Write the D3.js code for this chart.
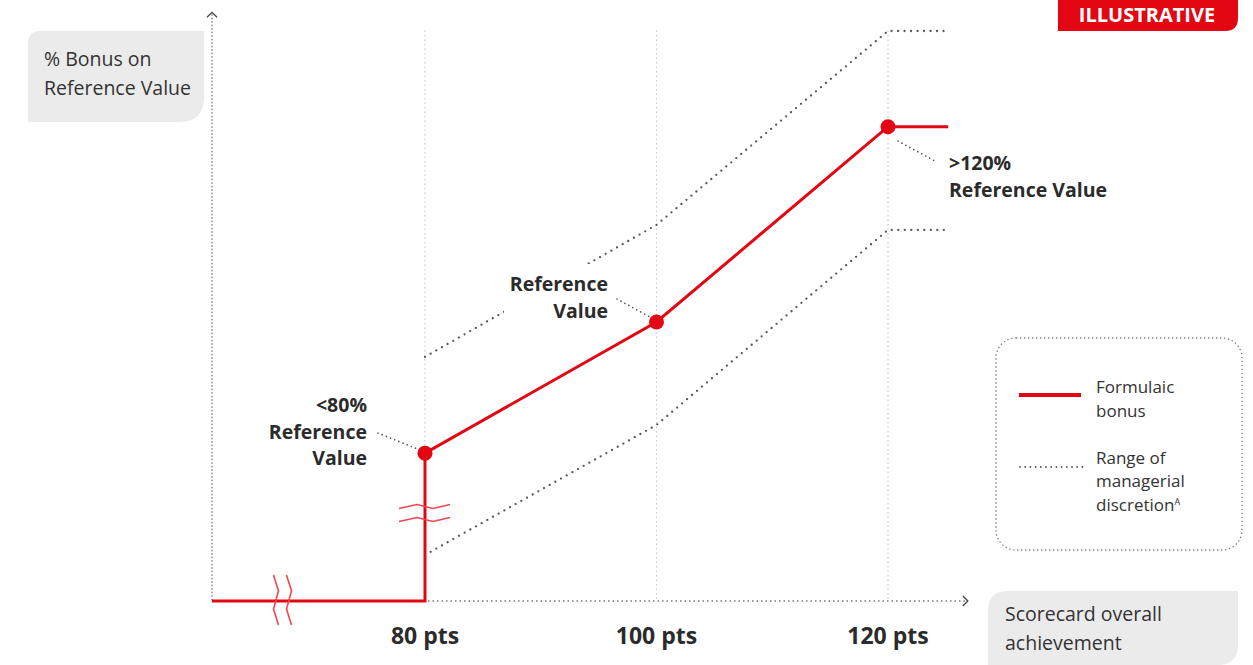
<!DOCTYPE html>
<html>
<head>
<meta charset="utf-8">
<script src="https://cdn.jsdelivr.net/npm/d3@7"></script>
<style>
  body { margin: 0; background: #fff; }
  svg text { font-family: "Open Sans", "Noto Sans", sans-serif; }
</style>
</head>
<body>
<div id="plot"></div>
<script>
// Chart data (illustrative values: x = scorecard points, y = % of reference value)
var tickPts = [80, 100, 120];
var tickLabels = ["80 pts", "100 pts", "120 pts"];

var formulaicPts = [61.6, 80, 80, 100, 120, 125.2];
var formulaicVal = [0, 0, 53, 100, 170, 170];

var markerPts = [80, 100, 120];
var markerVal = [53, 100, 170];

var upperPts = [80, 100, 120, 125];
var upperVal = [87.5, 134.8, 204.3, 204.3];

var lowerPts = [80, 100, 120, 125];
var lowerVal = [16.5, 63.1, 133, 133];

var axisStartPts = 61.6;
var axisEndPts = 126.9;
var axisTopVal = 211;
var gridTopVal = 204.5;

var red = "#e30613";
var dark = "#2b2b2b";

// SVG area
var svgWidth = 1253;
var svgHeight = 665;

var svg = d3.select("#plot")
  .append("svg")
  .attr("width", svgWidth)
  .attr("height", svgHeight);

// scales
var x = d3.scaleLinear().domain([80, 120]).range([425, 888]);
var y = d3.scaleLinear().domain([0, 100]).range([601, 322]);

// vertical grid lines
svg.selectAll(".grid")
  .data(tickPts)
  .enter()
  .append("line")
  .attr("x1", d => x(d)).attr("x2", d => x(d))
  .attr("y1", y(gridTopVal)).attr("y2", y(0))
  .attr("stroke", "#c8c8c8")
  .attr("stroke-width", 1.2)
  .attr("stroke-dasharray", "1.5,3");

// axes
svg.append("line")
  .attr("x1", x(axisStartPts)).attr("x2", x(axisStartPts))
  .attr("y1", y(axisTopVal) + 2).attr("y2", y(0))
  .attr("stroke", "#777").attr("stroke-width", 1.3)
  .attr("stroke-dasharray", "1.5,2");
svg.append("line")
  .attr("x1", x(axisStartPts)).attr("x2", x(axisEndPts) - 2)
  .attr("y1", y(0)).attr("y2", y(0))
  .attr("stroke", "#777").attr("stroke-width", 1.3)
  .attr("stroke-dasharray", "1.5,3");

// axis arrow heads
var ax0 = x(axisStartPts), ayTop = y(axisTopVal);
svg.append("path")
  .attr("d", `M${ax0 - 5},${ayTop + 5} L${ax0},${ayTop} L${ax0 + 5},${ayTop + 5}`)
  .attr("fill", "none").attr("stroke", "#444").attr("stroke-width", 1.3);
var axEnd = x(axisEndPts), ay0 = y(0);
svg.append("path")
  .attr("d", `M${axEnd - 5},${ay0 - 5} L${axEnd},${ay0} L${axEnd - 5},${ay0 + 5}`)
  .attr("fill", "none").attr("stroke", "#444").attr("stroke-width", 1.3);

// range of managerial discretion
var rangeLine = d3.line()
  .x(d => x(d[0]))
  .y(d => y(d[1]));

var upperData = upperPts.map((p, i) => [p, upperVal[i]]);
var lowerData = lowerPts.map((p, i) => [p, lowerVal[i]]);

[upperData, lowerData].forEach(function(data) {
  svg.append("path")
    .attr("d", rangeLine(data))
    .attr("fill", "none")
    .attr("stroke", "#555")
    .attr("stroke-width", 2.3)
    .attr("stroke-linecap", "round")
    .attr("stroke-dasharray", "0,6.5");
});

// label helper (bold call-out)
function callout(lines, px, py, anchor, lineH) {
  var t = svg.append("text")
    .attr("text-anchor", anchor)
    .style("font-size", "19.5px")
    .style("font-weight", "700")
    .attr("fill", dark);
  lines.forEach(function(l, i) {
    t.append("tspan").attr("x", px).attr("y", py + i * lineH).text(l);
  });
  return t;
}

// white mask behind "Reference Value" label
svg.append("rect")
  .attr("x", 504).attr("y", 264)
  .attr("width", 112).attr("height", 66)
  .attr("fill", "#fff");

callout(["<80%", "Reference", "Value"], 367, 412, "end", 26.5);
callout(["Reference", "Value"], 608, 291, "end", 27);
callout([">120%", "Reference Value"], 949, 170, "start", 27);

// leader lines
var leaders = [
  [378, 433, 420, 450],
  [617, 299, 650, 317],
  [898, 141, 935, 161]
];
svg.selectAll(".leader")
  .data(leaders)
  .enter()
  .append("line")
  .attr("x1", d => d[0]).attr("y1", d => d[1])
  .attr("x2", d => d[2]).attr("y2", d => d[3])
  .attr("stroke", "#555")
  .attr("stroke-width", 1.7)
  .attr("stroke-linecap", "round")
  .attr("stroke-dasharray", "0,4.5");

// formulaic bonus line
var formData = formulaicPts.map((p, i) => [p, formulaicVal[i]]);
svg.append("path")
  .attr("d", rangeLine(formData))
  .attr("fill", "none")
  .attr("stroke", red)
  .attr("stroke-width", 3)
  .attr("stroke-linejoin", "miter");

// break marks
var bx = 283, by = y(0);
[-6.5, 6.5].forEach(function(off) {
  var cx = bx + off;
  svg.append("path")
    .attr("d", `M${cx - 3},${by - 26} L${cx + 2},${by - 10} L${cx - 3},${by + 8} L${cx + 2},${by + 24}`)
    .attr("fill", "none").attr("stroke", "#f0464f").attr("stroke-width", 1.6);
});
var vx = x(80), vy = 513;
[-6.5, 6.5].forEach(function(off) {
  var cy = vy + off;
  svg.append("path")
    .attr("d", `M${vx - 26},${cy + 2} L${vx - 8},${cy - 2} L${vx + 8},${cy + 2} L${vx + 25},${cy - 2}`)
    .attr("fill", "none").attr("stroke", "#f0464f").attr("stroke-width", 1.6);
});

// markers
svg.selectAll(".marker")
  .data(markerPts)
  .enter()
  .append("circle")
  .attr("cx", d => x(d))
  .attr("cy", (d, i) => y(markerVal[i]))
  .attr("r", 7.5)
  .attr("fill", red);

// x tick labels
svg.selectAll(".tick-label")
  .data(tickPts)
  .enter()
  .append("text")
  .attr("x", d => x(d))
  .attr("y", 644)
  .attr("text-anchor", "middle")
  .style("font-size", "23px")
  .style("font-weight", "700")
  .attr("fill", dark)
  .text((d, i) => tickLabels[i]);

// y axis title box
svg.append("path")
  .attr("d", "M28,43 Q28,31 40,31 L204,31 L204,97 Q204,122 179,122 L28,122 Z")
  .attr("fill", "#ebebeb");
var yt = svg.append("text").style("font-size", "19.5px").attr("fill", "#333");
yt.append("tspan").attr("x", 44).attr("y", 66).text("% Bonus on");
yt.append("tspan").attr("x", 44).attr("y", 95).text("Reference Value");

// x axis title box
svg.append("path")
  .attr("d", "M988,611 Q988,591 1008,591 L1238,591 L1238,645 Q1238,665 1218,665 L988,665 Z")
  .attr("fill", "#ebebeb");
var xt = svg.append("text").style("font-size", "19.5px").attr("fill", "#333");
xt.append("tspan").attr("x", 1005).attr("y", 621).text("Scorecard overall");
xt.append("tspan").attr("x", 1005).attr("y", 650).text("achievement");

// ILLUSTRATIVE badge
svg.append("path")
  .attr("d", "M1058,0 L1238,0 L1238,18 Q1238,31 1225,31 L1058,31 Z")
  .attr("fill", red);
svg.append("text")
  .attr("x", 1147).attr("y", 22)
  .attr("text-anchor", "middle")
  .style("font-size", "20px")
  .style("font-weight", "700")
  .attr("fill", "#fff")
  .text("ILLUSTRATIVE");

// legend
svg.append("rect")
  .attr("x", 996).attr("y", 338)
  .attr("width", 246).attr("height", 212)
  .attr("rx", 20)
  .attr("fill", "none")
  .attr("stroke", "#777")
  .attr("stroke-width", 1.3)
  .attr("stroke-dasharray", "1.3,2.7");

svg.append("line")
  .attr("x1", 1019).attr("x2", 1081)
  .attr("y1", 395).attr("y2", 395)
  .attr("stroke", red).attr("stroke-width", 4);
svg.append("line")
  .attr("x1", 1020).attr("x2", 1083)
  .attr("y1", 467).attr("y2", 467)
  .attr("stroke", "#555").attr("stroke-width", 1.8)
  .attr("stroke-linecap", "round")
  .attr("stroke-dasharray", "0,5.2");

var lt1 = svg.append("text").style("font-size", "17px").attr("fill", "#333");
lt1.append("tspan").attr("x", 1096).attr("y", 393).text("Formulaic");
lt1.append("tspan").attr("x", 1096).attr("y", 417).text("bonus");

var lt2 = svg.append("text").style("font-size", "17px").attr("fill", "#333");
lt2.append("tspan").attr("x", 1096).attr("y", 464).text("Range of");
lt2.append("tspan").attr("x", 1096).attr("y", 487).text("managerial");
lt2.append("tspan").attr("x", 1096).attr("y", 511).text("discretion");
lt2.append("tspan").attr("dy", -6).style("font-size", "9px").text("A");
</script>
</body>
</html>
